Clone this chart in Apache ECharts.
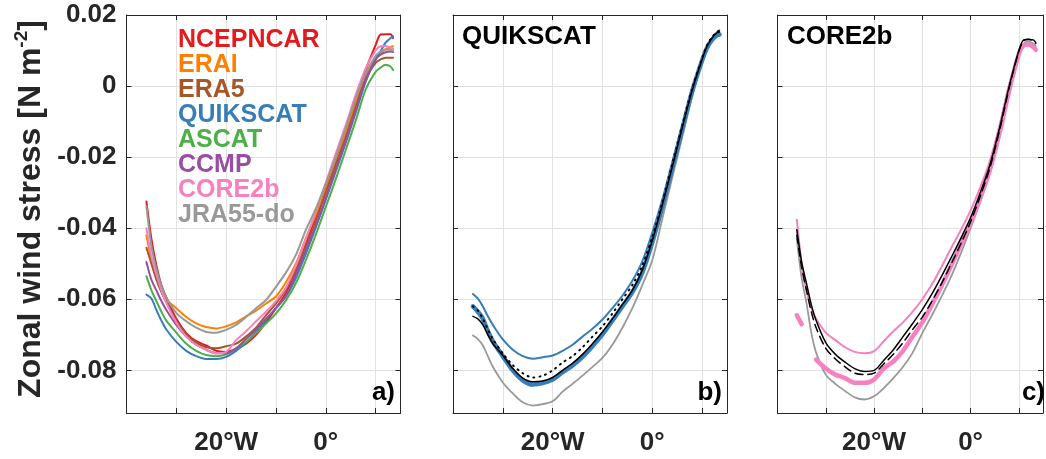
<!DOCTYPE html>
<html>
<head>
<meta charset="utf-8">
<script src="https://cdn.jsdelivr.net/npm/echarts@6/dist/echarts.min.js"></script>
<style>
  html, body { margin: 0; padding: 0; background: #fff; }
  #chart { width: 1046px; height: 459px; }
</style>
</head>
<body>
<div id="chart"></div>
<script>
// longitudes (negative = °W)
const lon = [-36,-35,-34,-33,-32,-30,-28,-26,-24,-22,-20,-18,-16,-14,-12,-10,-8,-6,-4,-2,0,2,4,6,8,10,11,12,13,13.5];

// panel a) all products
const names = ['NCEPNCAR','ERAI','ERA5','QUIKSCAT','ASCAT','CCMP','CORE2b','JRA55-do'];
const colors = ['#e41a1c','#ff7f00','#a65628','#377eb8','#4daf4a','#984ea3','#f781bf','#999999'];
const ncepncar = [-0.0325,-0.0430,-0.0505,-0.0560,-0.0595,-0.0655,-0.0695,-0.0718,-0.0730,-0.0745,-0.0748,-0.0740,-0.0725,-0.0700,-0.0665,-0.0625,-0.0582,-0.0525,-0.0445,-0.0368,-0.0290,-0.0208,-0.0130,-0.0040,0.0045,0.0115,0.0145,0.0146,0.0146,0.0135];
const erai = [-0.0420,-0.0490,-0.0540,-0.0575,-0.0600,-0.0625,-0.0650,-0.0668,-0.0678,-0.0682,-0.0676,-0.0665,-0.0648,-0.0632,-0.0612,-0.0592,-0.0552,-0.0500,-0.0428,-0.0362,-0.0292,-0.0210,-0.0132,-0.0048,0.0028,0.0078,0.0093,0.0103,0.0110,0.0112];
const era5 = [-0.0455,-0.0500,-0.0545,-0.0580,-0.0608,-0.0662,-0.0698,-0.0722,-0.0735,-0.0738,-0.0732,-0.0725,-0.0705,-0.0680,-0.0645,-0.0612,-0.0572,-0.0515,-0.0450,-0.0378,-0.0300,-0.0222,-0.0145,-0.0060,0.0020,0.0065,0.0075,0.0080,0.0080,0.0080];
const quikscat = [-0.0587,-0.0598,-0.0630,-0.0660,-0.0685,-0.0720,-0.0745,-0.0760,-0.0768,-0.0768,-0.0762,-0.0745,-0.0722,-0.0692,-0.0658,-0.0625,-0.0592,-0.0540,-0.0472,-0.0398,-0.0320,-0.0240,-0.0160,-0.0075,0.0012,0.0075,0.0098,0.0122,0.0135,0.0140];
const ascat = [-0.0535,-0.0575,-0.0605,-0.0635,-0.0660,-0.0694,-0.0725,-0.0745,-0.0757,-0.0760,-0.0755,-0.0738,-0.0720,-0.0695,-0.0668,-0.0640,-0.0603,-0.0555,-0.0490,-0.0418,-0.0340,-0.0262,-0.0180,-0.0098,-0.0010,0.0040,0.0052,0.0060,0.0055,0.0045];
const ccmp = [-0.0495,-0.0545,-0.0575,-0.0605,-0.0630,-0.0672,-0.0705,-0.0728,-0.0742,-0.0752,-0.0752,-0.0738,-0.0712,-0.0685,-0.0655,-0.0625,-0.0590,-0.0530,-0.0462,-0.0392,-0.0315,-0.0235,-0.0155,-0.0070,0.0015,0.0075,0.0088,0.0095,0.0097,0.0096];
const core2b = [-0.0400,-0.0480,-0.0530,-0.0575,-0.0610,-0.0665,-0.0705,-0.0728,-0.0742,-0.0752,-0.0748,-0.0715,-0.0690,-0.0662,-0.0635,-0.0605,-0.0567,-0.0505,-0.0430,-0.0352,-0.0272,-0.0190,-0.0110,-0.0025,0.0050,0.0100,0.0112,0.0113,0.0108,0.0105];
const jra55 = [-0.0338,-0.0450,-0.0515,-0.0562,-0.0595,-0.0638,-0.0662,-0.0680,-0.0692,-0.0694,-0.0686,-0.0672,-0.0650,-0.0625,-0.0602,-0.0565,-0.0525,-0.0475,-0.0405,-0.0345,-0.0275,-0.0200,-0.0118,-0.0035,0.0035,0.0085,0.0097,0.0103,0.0102,0.0100];

// panel b) QUIKSCAT
const qsThin = [-0.0585,-0.0598,-0.0620,-0.0648,-0.0672,-0.0713,-0.0742,-0.0760,-0.0767,-0.0763,-0.0758,-0.0745,-0.0728,-0.0705,-0.0683,-0.0657,-0.0625,-0.0590,-0.0548,-0.0493,-0.0412,-0.0320,-0.0215,-0.0110,-0.0010,0.0075,0.0112,0.0135,0.0150,0.0146];
const qsThick = [-0.0620,-0.0635,-0.0655,-0.0690,-0.0718,-0.0760,-0.0800,-0.0828,-0.0840,-0.0836,-0.0826,-0.0805,-0.0786,-0.0762,-0.0732,-0.0699,-0.0660,-0.0620,-0.0580,-0.0525,-0.0440,-0.0340,-0.0232,-0.0122,-0.0015,0.0072,0.0108,0.0130,0.0143,0.0145];
const qsBlack = [-0.0648,-0.0655,-0.0672,-0.0700,-0.0725,-0.0758,-0.0795,-0.0822,-0.0832,-0.0830,-0.0820,-0.0800,-0.0780,-0.0755,-0.0725,-0.0692,-0.0655,-0.0615,-0.0575,-0.0518,-0.0435,-0.0335,-0.0228,-0.0118,-0.0012,0.0075,0.0112,0.0135,0.0150,0.0152];
const qsDotted = [-0.0620,-0.0632,-0.0655,-0.0685,-0.0712,-0.0752,-0.0785,-0.0808,-0.0820,-0.0815,-0.0800,-0.0778,-0.0760,-0.0735,-0.0705,-0.0676,-0.0640,-0.0600,-0.0560,-0.0505,-0.0425,-0.0328,-0.0220,-0.0112,-0.0008,0.0078,0.0115,0.0138,0.0153,0.0155];
const qsGray = [-0.0702,-0.0712,-0.0730,-0.0760,-0.0790,-0.0834,-0.0865,-0.0890,-0.0899,-0.0895,-0.0887,-0.0860,-0.0838,-0.0815,-0.0790,-0.0765,-0.0728,-0.0680,-0.0625,-0.0560,-0.0490,-0.0375,-0.0258,-0.0145,-0.0030,0.0068,0.0108,0.0135,0.0152,0.0158];

// panel c) CORE2b
const cBlack = [-0.0404,-0.0495,-0.0555,-0.0615,-0.0660,-0.0722,-0.0755,-0.0777,-0.0795,-0.0803,-0.0800,-0.0772,-0.0742,-0.0705,-0.0668,-0.0629,-0.0585,-0.0535,-0.0482,-0.0428,-0.0370,-0.0300,-0.0222,-0.0118,0.0000,0.0100,0.0130,0.0131,0.0130,0.0122];
const cDashed = [-0.0420,-0.0510,-0.0575,-0.0635,-0.0680,-0.0738,-0.0768,-0.0790,-0.0808,-0.0812,-0.0808,-0.0782,-0.0755,-0.0722,-0.0685,-0.0650,-0.0605,-0.0555,-0.0500,-0.0443,-0.0382,-0.0310,-0.0230,-0.0125,-0.0005,0.0098,0.0128,0.0132,0.0128,0.0120];
const cPinkThin = [-0.0376,-0.0500,-0.0575,-0.0625,-0.0655,-0.0694,-0.0715,-0.0735,-0.0748,-0.0752,-0.0746,-0.0718,-0.0690,-0.0665,-0.0635,-0.0600,-0.0558,-0.0508,-0.0455,-0.0405,-0.0350,-0.0285,-0.0210,-0.0110,0.0005,0.0092,0.0117,0.0116,0.0106,0.0100];
const cPinkThick = [-0.0645,-0.0670,null,null,-0.0770,-0.0795,-0.0812,-0.0822,-0.0835,-0.0835,-0.0826,-0.0795,-0.0775,-0.0745,-0.0705,-0.0665,-0.0615,-0.0562,-0.0505,-0.0445,-0.0385,-0.0315,-0.0235,-0.0132,-0.0012,0.0090,0.0115,0.0117,0.0110,0.0102];
const cGray = [-0.0430,-0.0540,-0.0610,-0.0694,-0.0750,-0.0812,-0.0838,-0.0858,-0.0876,-0.0882,-0.0873,-0.0850,-0.0822,-0.0790,-0.0750,-0.0695,-0.0645,-0.0592,-0.0535,-0.0470,-0.0400,-0.0325,-0.0245,-0.0140,-0.0020,0.0085,0.0120,0.0125,0.0120,0.0112];

// tick labels
const xTickValues = [-20, 0];
const xTickLabels = ['20°W', '0°'];
const yTickValues = [-0.08, -0.06, -0.04, -0.02, 0, 0.02];
const yTickLabels = ['-0.08', '-0.06', '-0.04', '-0.02', '0', '0.02'];

const FONT = 'Liberation Sans';
const AX = '#262626';
const gridLefts = [126.5, 453, 777.5];

const chart = echarts.init(document.getElementById('chart'));

function pts(vals) { return lon.map((x, i) => [x, vals[i] == null ? '-' : vals[i]]); }

function line(name, vals, g, color, width, type, z) {
  return {
    name: name, type: 'line', xAxisIndex: g * 2, yAxisIndex: g * 2,
    data: pts(vals), showSymbol: false, smooth: 0.3, z: z || 2,
    lineStyle: { color: color, width: width, type: type || 'solid', cap: 'round' },
    itemStyle: { color: color }, animation: false
  };
}

const xAxis = [], yAxis = [];
gridLefts.forEach((l, g) => {
  xAxis.push({
    gridIndex: g, type: 'value', min: -40, max: 15, interval: 10, position: 'bottom',
    axisLine: { onZero: false, lineStyle: { color: AX, width: 1 } },
    axisTick: { inside: true, length: 5, lineStyle: { color: AX } },
    axisLabel: { margin: 17, color: AX, fontSize: 26, fontWeight: 'bold', fontFamily: FONT,
      formatter: v => { const k = xTickValues.indexOf(v); return k >= 0 ? xTickLabels[k] : ''; } },
    splitLine: { show: true, lineStyle: { color: '#e2e2e2', width: 1 } }
  });
  xAxis.push({
    gridIndex: g, type: 'value', min: -40, max: 15, interval: 10, position: 'top',
    axisLine: { onZero: false, lineStyle: { color: AX, width: 1 } },
    axisTick: { inside: true, length: 5, lineStyle: { color: AX } },
    axisLabel: { show: false }, splitLine: { show: false }
  });
  yAxis.push({
    gridIndex: g, type: 'value', min: -0.092, max: 0.02, position: 'left',
    axisLine: { onZero: false, show: true, lineStyle: { color: AX, width: 1 } },
    axisTick: { show: true, inside: true, length: 5, lineStyle: { color: AX }, customValues: yTickValues },
    axisLabel: { show: g === 0, margin: 10, color: AX, fontSize: 26, fontWeight: 'bold', fontFamily: FONT,
      customValues: yTickValues,
      formatter: v => { const k = yTickValues.findIndex(t => Math.abs(t - v) < 1e-9); return k >= 0 ? yTickLabels[k] : ''; } },
    splitLine: { show: true, lineStyle: { color: '#e2e2e2', width: 1 } }
  });
  yAxis.push({
    gridIndex: g, type: 'value', min: -0.092, max: 0.02, position: 'right',
    axisLine: { onZero: false, show: true, lineStyle: { color: AX, width: 1 } },
    axisTick: { show: true, inside: true, length: 5, lineStyle: { color: AX }, customValues: yTickValues },
    axisLabel: { show: false }, splitLine: { show: false }
  });
});

const panelA = [ncepncar, erai, era5, quikscat, ascat, ccmp, core2b, jra55];
const series = panelA.map((v, i) => line(names[i], v, 0, colors[i], 2, 'solid', 2 + i * 0.01));

series.push(line('b-gray', qsGray, 1, '#999999', 1.8));
series.push(line('b-thin', qsThin, 1, '#377eb8', 2));
series.push(line('b-thick', qsThick, 1, '#377eb8', 4.5));
series.push(line('b-black', qsBlack, 1, '#000000', 1.5, 'solid', 3));
series.push(line('b-dotted', qsDotted, 1, '#000000', 2, [1, 5], 3));

series.push(line('c-gray', cGray, 2, '#999999', 1.8));
series.push(line('c-thin', cPinkThin, 2, '#f781bf', 2));
series.push(line('c-thick', cPinkThick, 2, '#f781bf', 4.5));
series.push(line('c-black', cBlack, 2, '#000000', 1.5, 'solid', 3));
series.push(line('c-dashed', cDashed, 2, '#000000', 1.5, [8, 5], 3));

const txt = (text, x, y, align, size, color) => ({
  type: 'text', x: x, y: y, z: 10, silent: true,
  style: { text: text, align: align, verticalAlign: 'middle', fontSize: size, fontWeight: 'bold',
    fontFamily: FONT, fill: color || '#000' }
});

const option = {
  backgroundColor: '#fff',
  animation: false,
  grid: gridLefts.map(l => ({ left: l, top: 15, width: 274, height: 398, containLabel: false })),
  xAxis: xAxis,
  yAxis: yAxis,
  legend: {
    orient: 'vertical', left: 173, top: 28, padding: 0, itemGap: 0,
    icon: 'none', itemWidth: 0, itemHeight: 10, selectedMode: false,
    textStyle: { fontSize: 25, fontWeight: 'bold', fontFamily: FONT, lineHeight: 24.6 },
    data: names.map((n, i) => ({ name: n, textStyle: { color: colors[i] } }))
  },
  graphic: [
    {
      type: 'text', x: 30, y: 209, rotation: Math.PI / 2, silent: true,
      style: {
        text: '{a|Zonal wind stress [N m}{s|-2}{a|]}',
        align: 'center', verticalAlign: 'middle',
        rich: {
          a: { fontSize: 32, fontWeight: 'bold', fontFamily: FONT, fill: AX, lineHeight: 35, verticalAlign: 'bottom' },
          s: { fontSize: 19, fontWeight: 'bold', fontFamily: FONT, fill: AX, lineHeight: 20, verticalAlign: 'top' }
        }
      }
    },
    txt('QUIKSCAT', 462, 37, 'left', 26, '#000'),
    txt('CORE2b', 787, 37, 'left', 26, '#000'),
    txt('a)', 395, 393, 'right', 26, '#000'),
    txt('b)', 722, 393, 'right', 26, '#000'),
    txt('c)', 1045, 393, 'right', 26, '#000')
  ],
  series: series
};
chart.setOption(option);
</script>
</body>
</html>
